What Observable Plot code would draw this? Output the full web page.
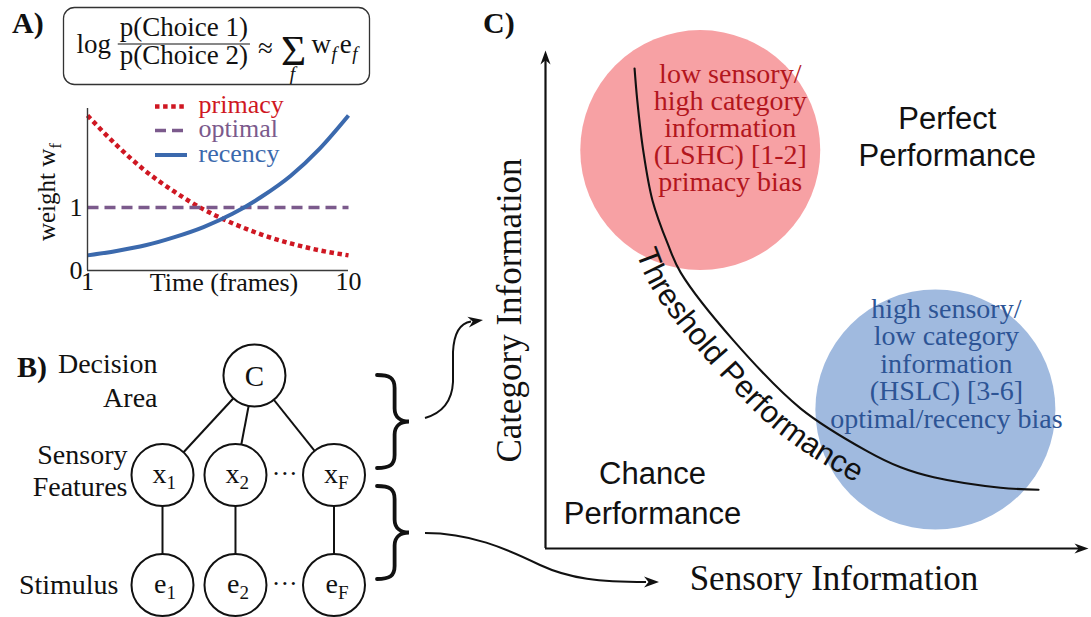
<!DOCTYPE html>
<html>
<head>
<meta charset="utf-8">
<script src="https://cdn.jsdelivr.net/npm/d3@7"></script>
<script src="https://cdn.jsdelivr.net/npm/@observablehq/plot@0.6"></script>
<style>
  html, body { margin: 0; padding: 0; background: #fff; }
  #figure { position: relative; width: 1091px; height: 617px; overflow: hidden; background: #fff; }
  #figure > svg { position: absolute; left: 0; top: 0; overflow: visible; }
  #figure text { font-family: 'Liberation Serif', 'Times New Roman', serif; }
  #figure .sans, #figure .sans text { font-family: 'Liberation Sans', Arial, Helvetica, sans-serif; }
</style>
</head>
<body>
<div id="figure"></div>
<script>
const SERIF = "Liberation Serif, serif";
const SANS = "Liberation Sans, sans-serif";
const W = 1091, H = 617;
const INK = "#111";

// ---------- A) temporal weighting profiles ----------
const frames = [1, 2, 3, 4, 5, 6, 7, 8, 9, 10];
const primacyWeights = [2.46, 1.99, 1.58, 1.25, 0.97, 0.75, 0.57, 0.43, 0.32, 0.24];
const optimalWeights = [1, 1, 1, 1, 1, 1, 1, 1, 1, 1];
const recencyWeights = [0.24, 0.31, 0.40, 0.53, 0.69, 0.90, 1.17, 1.50, 1.93, 2.46];
const weightSeries = ["primacy", "optimal", "recency"];
const weightColors = ["#cf1722", "#7b5a8c", "#3b69ad"];
const weightTicksX = [1, 10];
const weightTicksY = [0, 1];

// ---------- B) graphical model ----------
const nodeNames = ["C", "x1", "x2", "xF", "e1", "e2", "eF"];
const nodeBase = ["C", "x", "x", "x", "e", "e", "e"];
const nodeSub = ["", "1", "2", "F", "1", "2", "F"];
const nodeColumn = [2.26, 1, 2, 3.35, 1, 2, 3.35];
const nodeLevel = [1.905, 1, 1, 1, 0, 0, 0];
const nodeEdges = [["C", "x1"], ["C", "x2"], ["C", "xF"], ["x1", "e1"], ["x2", "e2"], ["xF", "eF"]];
const levelLabels = ["Decision\nArea", "Sensory\nFeatures", "Stimulus"];

// ---------- C) information plane ----------
const thresholdSensory = [0.164, 0.169, 0.180, 0.197, 0.225, 0.249, 0.346, 0.470, 0.593, 0.654, 0.715, 0.838, 0.908];
const thresholdCategory = [0.964, 0.900, 0.799, 0.699, 0.612, 0.554, 0.418, 0.281, 0.195, 0.163, 0.143, 0.122, 0.118];
const thresholdLabel = "Threshold Performance";
const regionNames = ["LSHC", "HSLC"];
const regionSensory = [0.285, 0.718];
const regionCategory = [0.800, 0.279];
const regionFills = ["#f7a1a4", "#a0badf"];
const regionInk = ["#b3161d", "#2d5495"];
const regionLabels = [
  "low sensory/\nhigh category\ninformation\n(LSHC) [1-2]\nprimacy bias",
  "high sensory/\nlow category\ninformation\n(HSLC) [3-6]\noptimal/recency bias"
];
const zoneLabels = ["Perfect\nPerformance", "Chance\nPerformance"];
const axisLabelsC = ["Sensory Information", "Category Information"];

const fig = document.getElementById("figure");

// ================= Panel C =================
const threshold = thresholdSensory.map((s, i) => ({s, c: thresholdCategory[i]}));
const regions = regionNames.map((name, i) => ({name, s: regionSensory[i], c: regionCategory[i], fill: regionFills[i], ink: regionInk[i], label: regionLabels[i]}));

// filled "stealth" arrow heads; the tip sits on the anchor point
const arrowUp = {draw(ctx, size) {
  const r = Math.sqrt(size / Math.PI), L = 2 * r, w = 0.72 * r;
  ctx.moveTo(0, 0); ctx.lineTo(-w, L); ctx.lineTo(0, 0.7 * L); ctx.lineTo(w, L); ctx.closePath();
}};
const arrowRight = {draw(ctx, size) {
  const r = Math.sqrt(size / Math.PI), L = 2 * r, w = 0.72 * r;
  ctx.moveTo(0, 0); ctx.lineTo(-L, -w); ctx.lineTo(-0.7 * L, 0); ctx.lineTo(-L, w); ctx.closePath();
}};

const panelC = Plot.plot({
  width: W, height: H,
  marginLeft: 545, marginRight: W - 1088, marginTop: 50, marginBottom: H - 548,
  axis: null,
  x: {domain: [0, 1]},
  y: {domain: [0, 1]},
  color: {type: "identity"},
  style: {background: "transparent", overflow: "visible"},
  marks: [
    Plot.dot(regions, {x: "s", y: "c", r: 120, fill: "fill", stroke: "none"}),
    Plot.line(threshold, {x: "s", y: "c", stroke: INK, strokeWidth: 2.1, curve: "catmull-rom"}),
    Plot.ruleX([0], {y1: 0, y2: 0.985, stroke: INK, strokeWidth: 2.2}),
    Plot.ruleY([0], {x1: 0, x2: 0.985, stroke: INK, strokeWidth: 2.2}),
    Plot.dot([{s: 0, c: 1}], {x: "s", y: "c", symbol: arrowUp, r: 7, fill: INK, stroke: "none"}),
    Plot.dot([{s: 1, c: 0}], {x: "s", y: "c", symbol: arrowRight, r: 7, fill: INK, stroke: "none"}),
    Plot.text([regions[0]], {x: "s", y: "c", text: "label", fill: "ink", dx: 30, dy: 41, lineAnchor: "bottom", lineHeight: 0.964, fontSize: 28, fontFamily: SERIF}),
    Plot.text([regions[1]], {x: "s", y: "c", text: "label", fill: "ink", dx: 11, dy: 18, lineAnchor: "bottom", lineHeight: 0.982, fontSize: 28, fontFamily: SERIF}),
    Plot.text([zoneLabels[0]], {x: 0.740, y: 0.769, text: d => d, lineAnchor: "bottom", lineHeight: 1.19, fontSize: 31, fontFamily: SANS, fill: INK, ariaDescription: "zone"}),
    Plot.text([zoneLabels[1]], {x: 0.197, y: 0.050, text: d => d, lineAnchor: "bottom", lineHeight: 1.29, fontSize: 31, fontFamily: SANS, fill: INK, ariaDescription: "zone"}),
    Plot.text([axisLabelsC[0]], {text: d => d, frameAnchor: "bottom", textAnchor: "middle", dx: 17, dy: 41, lineAnchor: "bottom", fontSize: 35, fontFamily: SERIF, fill: INK}),
    Plot.text([axisLabelsC[1]], {text: d => d, frameAnchor: "left", textAnchor: "middle", rotate: -90, dx: -25, dy: 11, lineAnchor: "bottom", fontSize: 35, fontFamily: SERIF, fill: INK})
  ]
});
fig.appendChild(panelC);
d3.select(panelC).selectAll('g[aria-description="zone"]').classed("sans", true);

// lettering that runs along the lower-left side of the threshold curve
{
  const lineG = d3.select(panelC).select('g[aria-label="line"]');
  const curve = lineG.select("path").node();
  const total = curve.getTotalLength();
  const gap = 33, start = 176;
  const baseline = [];
  for (let s = start; s <= total; s += 3) {
    const p = curve.getPointAtLength(s);
    const a = curve.getPointAtLength(Math.max(0, s - 2));
    const b = curve.getPointAtLength(Math.min(total, s + 2));
    const tx = b.x - a.x, ty = b.y - a.y, n = Math.hypot(tx, ty) || 1;
    baseline.push([p.x - (ty / n) * gap, p.y + (tx / n) * gap]);
  }
  lineG.append("path").attr("id", "threshold-baseline")
    .attr("d", d3.line()(baseline)).attr("fill", "none").attr("stroke", "none");
  lineG.append("text")
      .attr("class", "sans")
      .attr("font-size", 31)
      .attr("text-anchor", "start")
      .attr("fill", INK).attr("stroke", "none")
    .append("textPath")
      .attr("href", "#threshold-baseline")
      .attr("startOffset", 0)
      .text(thresholdLabel);
}

// ================= Panel B =================
const nodes = nodeNames.map((id, i) => ({id, base: nodeBase[i], sub: nodeSub[i], col: nodeColumn[i], level: nodeLevel[i]}));
const byId = new Map(nodes.map(d => [d.id, d]));
const links = nodeEdges.map(([a, b]) => ({a: byId.get(a), b: byId.get(b)}));
const gapCol = (byId.get("x2").col + byId.get("xF").col) / 2;
const ellipses = [1, 0].map(level => ({col: gapCol, level}));
const labelStyle = {x: () => 1, textAnchor: "end", lineAnchor: "bottom", fontSize: 28, fontFamily: SERIF, fill: INK};

const panelB = Plot.plot({
  width: W, height: H,
  marginLeft: 162, marginRight: W - 333.5, marginTop: 375, marginBottom: H - 584.5,
  axis: null,
  x: {domain: [1, 3.35]},
  y: {domain: [0, 1.905]},
  style: {background: "transparent", overflow: "visible"},
  marks: [
    Plot.link(links, {x1: d => d.a.col, y1: d => d.a.level, x2: d => d.b.col, y2: d => d.b.level, stroke: INK, strokeWidth: 2}),
    Plot.dot(nodes, {x: "col", y: "level", r: 31, fill: "white", stroke: INK, strokeWidth: 2}),
    Plot.text(nodes.filter(d => !d.sub), {x: "col", y: "level", text: "base", dy: 10, lineAnchor: "bottom", fontSize: 29, fontFamily: SERIF, fill: INK}),
    Plot.text(nodes.filter(d => d.sub), {x: "col", y: "level", text: "base", textAnchor: "end", dx: 4, dy: 8, lineAnchor: "bottom", fontSize: 28, fontFamily: SERIF, fill: INK}),
    Plot.text(nodes.filter(d => d.sub), {x: "col", y: "level", text: "sub", textAnchor: "start", dx: 4, dy: 14, lineAnchor: "bottom", fontSize: 19, fontFamily: SERIF, fill: INK}),
    Plot.text(ellipses, {x: "col", y: "level", text: () => "\u00b7\u00b7\u00b7", dy: 7, lineAnchor: "bottom", fontSize: 26, fontFamily: SERIF, fill: INK}),
    Plot.text([levelLabels[0]], {...labelStyle, y: () => 1.905, text: d => d, dx: -5, dy: 31, lineHeight: 1.18}),
    Plot.text([levelLabels[1]], {...labelStyle, y: () => 1, text: d => d, dx: -35, dy: 20.5, lineHeight: 1.14}),
    Plot.text([levelLabels[2]], {...labelStyle, y: () => 0, text: d => d, dx: -44, dy: 8.5})
  ]
});
fig.appendChild(panelB);

// ================= Panel A =================
const weightRows = frames.map((t, i) => ({t, primacy: primacyWeights[i], optimal: optimalWeights[i], recency: recencyWeights[i]}));
const lineStyles = [
  {strokeWidth: 4.5, strokeDasharray: "4.5,3.6", strokeLinecap: "butt"},
  {strokeWidth: 3.5, strokeDasharray: "11,6", strokeLinecap: "butt"},
  {strokeWidth: 4, strokeLinecap: "butt"}
];
const legendY = [2.603, 2.222, 1.833];
const legendRows = weightSeries.map((name, k) => ({name, y: legendY[k], color: weightColors[k]}));

const panelA = Plot.plot({
  width: W, height: H,
  marginLeft: 87, marginRight: W - 348, marginTop: 108, marginBottom: H - 270,
  x: {domain: [1, 10]},
  y: {domain: [0, 2.571]},
  color: {type: "identity"},
  style: {background: "transparent", overflow: "visible"},
  marks: [
    ...weightSeries.map((name, k) => Plot.line(weightRows, {x: "t", y: name, stroke: weightColors[k], curve: "monotone-x", ...lineStyles[k]})),
    Plot.ruleX([1], {y1: 0, y2: 2.571, stroke: "#3a3a3a", strokeWidth: 1.4}),
    Plot.ruleY([0], {x1: 1, x2: 10, stroke: "#3a3a3a", strokeWidth: 1.4}),
    Plot.axisX(weightTicksX, {tickSize: 0, tickPadding: 1, tickFormat: d => String(d), fontSize: 26, fontFamily: SERIF, color: INK, label: null}),
    Plot.axisY(weightTicksY, {tickSize: 0, tickPadding: 5, tickFormat: d => String(d), fontSize: 26, fontFamily: SERIF, color: INK, label: null}),
    Plot.text(["Time (frames)"], {text: d => d, frameAnchor: "bottom", textAnchor: "middle", dx: 6, dy: 20, lineAnchor: "bottom", fontSize: 26, fontFamily: SERIF, fill: INK}),
    ...legendRows.map((d, k) => Plot.ruleY([d.y], {x1: 3.345, x2: 4.448, stroke: d.color, ...lineStyles[k]})),
    Plot.text(legendRows, {x: 4.83, y: "y", text: "name", fill: "color", textAnchor: "start", lineAnchor: "bottom", dy: 7, fontSize: 26, fontFamily: SERIF})
  ]
});
fig.appendChild(panelA);

// ================= Annotations: panel letters, formula, braces, connectors =================
const over = d3.select(fig).append("svg").attr("width", W).attr("height", H).attr("viewBox", `0 0 ${W} ${H}`);

function rich(parent, x, y, parts, {size = 26, anchor = "start", fill = INK, weight = null} = {}) {
  const t = parent.append("text").attr("x", x).attr("y", y)
    .attr("font-size", size).attr("fill", fill).attr("text-anchor", anchor);
  if (weight) t.attr("font-weight", weight);
  let shift = 0;
  for (const p of parts) {
    const s = t.append("tspan").text(p.text);
    const target = p.sub ? size * 0.25 : 0;
    if (target !== shift) { s.attr("dy", target - shift); shift = target; }
    if (p.sub) s.attr("font-size", size * 0.7);
    if (p.italic) s.attr("font-style", "italic");
    if (p.dx) s.attr("dx", p.dx);
  }
  return t;
}
const len = t => t.node().getComputedTextLength();

// panel letters
[["A)", 12, 33], ["B)", 17, 377], ["C)", 483, 33]].forEach(([s, x, y]) =>
  rich(over, x, y, [{text: s}], {size: 30, weight: "bold"}));

// decision-rule formula in a rounded box
over.append("rect").attr("x", 63.5).attr("y", 7.5).attr("width", 306).attr("height", 77).attr("rx", 11)
  .attr("fill", "none").attr("stroke", "#333").attr("stroke-width", 1.3);
{
  const fs = 27;
  const g = over.append("g");
  let cx = 0;
  const logT = rich(g, cx, 53, [{text: "log"}], {size: fs});
  cx += len(logT) + 0.25 * fs;
  const numT = rich(g, 0, 36, [{text: "p(Choice 1)"}], {size: fs, anchor: "middle"});
  const denT = rich(g, 0, 64, [{text: "p(Choice 2)"}], {size: fs, anchor: "middle"});
  const fracW = Math.max(len(numT), len(denT)) + 4;
  numT.attr("x", cx + fracW / 2); denT.attr("x", cx + fracW / 2);
  g.append("line").attr("x1", cx).attr("x2", cx + fracW).attr("y1", 44).attr("y2", 44).attr("stroke", INK).attr("stroke-width", 1.1);
  cx += fracW + 0.3 * fs;
  const apT = rich(g, cx, 57, [{text: "\u2248"}], {size: fs});
  cx += len(apT) + 0.3 * fs;
  const sigT = rich(g, cx, 65, [{text: "\u03a3"}], {size: 1.6 * fs});
  const sigW = len(sigT);
  rich(g, cx + sigW / 2 - 1, 80, [{text: "f", italic: true}], {size: 0.72 * fs, anchor: "middle"});
  cx += sigW + 0.2 * fs;
  const weT = rich(g, cx, 53, [{text: "w"}, {text: "f", sub: true, italic: true, dx: 0.5}, {text: "e", dx: 3}, {text: "f", sub: true, italic: true, dx: 0.5}], {size: fs});
  cx += len(weT) + 4;
  g.attr("transform", `translate(${217 - cx / 2},0)`);
}

// y label of panel A
rich(over.append("g").attr("transform", "translate(55,192) rotate(-90)"), 0, 0,
  [{text: "weight w"}, {text: "f", sub: true}], {size: 25, anchor: "middle"});

// curly braces grouping the model layers
function bracePath(x, y0, y1, w) {
  const ym = (y0 + y1) / 2, s = x + w * 0.55, k = 13;
  return `M${x},${y0} C${x + w * 0.4},${y0} ${s},${y0 + 3} ${s},${y0 + k} L${s},${ym - k}` +
         ` C${s},${ym - 4} ${x + w * 0.75},${ym} ${x + w},${ym} C${x + w * 0.75},${ym} ${s},${ym + 4} ${s},${ym + k}` +
         ` L${s},${y1 - k} C${s},${y1 - 3} ${x + w * 0.4},${y1} ${x},${y1}`;
}
[[375, 468], [486, 579]].forEach(([a, b]) =>
  over.append("path").attr("d", bracePath(377, a, b, 32)).attr("fill", "none")
    .attr("stroke", INK).attr("stroke-width", 3.8).attr("stroke-linecap", "round"));

// connectors from the braces to the axes of panel C
function arrowHead(x, y, angle) {
  over.append("path").attr("d", "M0,0 L-15,-5.5 L-10.5,0 L-15,5.5 Z")
    .attr("transform", `translate(${x},${y}) rotate(${angle})`).attr("fill", INK);
}
over.append("path").attr("d", "M425,418 C442,413 452,402 453,382 L453,352 C454,331 461,323 471,321.5")
  .attr("fill", "none").attr("stroke", INK).attr("stroke-width", 2);
arrowHead(483, 320, -8);
over.append("path").attr("d", "M425,533 C470,533 505,548 540,565 C570,579 600,582 646,582")
  .attr("fill", "none").attr("stroke", INK).attr("stroke-width", 2);
arrowHead(659, 582, 0);
</script>
</body>
</html>
